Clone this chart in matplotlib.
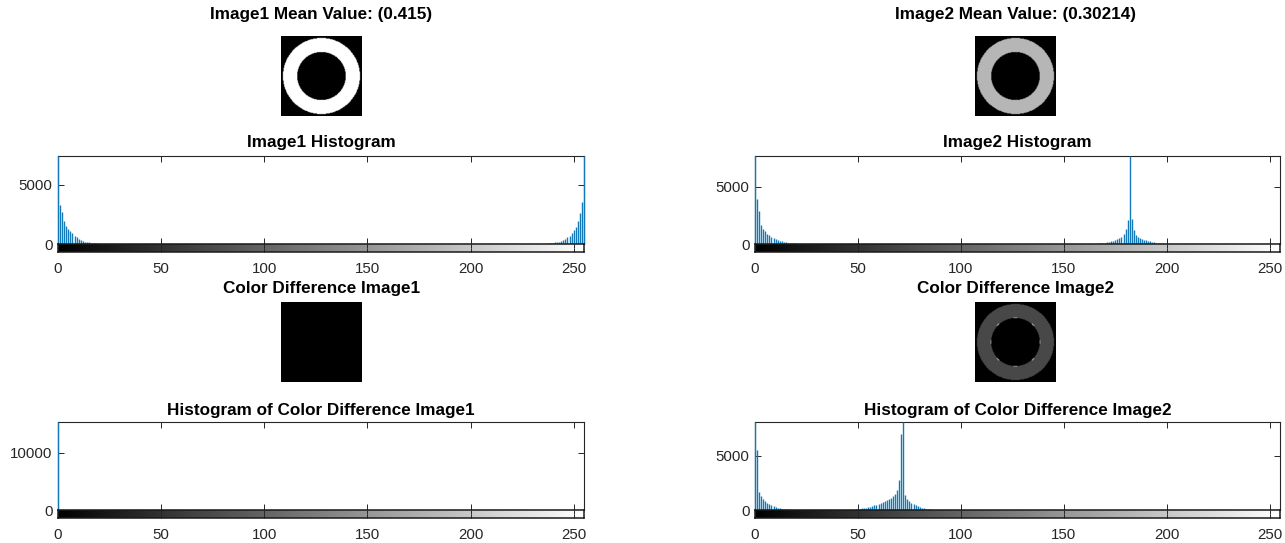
import numpy as np
import matplotlib
matplotlib.use("Agg")
import matplotlib.pyplot as plt

plt.rcParams['font.family'] = ['Liberation Sans', 'DejaVu Sans']

# ---------------- data ----------------
img_size = 124
ring_outer = 0.95
ring_inner = 0.60
image1_ring_level = 255
image2_ring_level = 182
diff2_ring_level = 72

titles_left = ["Image1 Mean Value: (0.415)", "Image1 Histogram",
               "Color Difference Image1", "Histogram of Color Difference Image1"]
titles_right = ["Image2 Mean Value: (0.30214)", "Image2 Histogram",
                "Color Difference Image2", "Histogram of Color Difference Image2"]

x_ticks = [0, 50, 100, 150, 200, 250]

hist1_bins = list(range(0, 23)) + list(range(232, 256))
hist1_counts = [7400, 3300, 2700, 1900, 1500, 1300, 1100, 900, 700, 550, 400, 330,
                260, 200, 160, 130, 100, 80, 60, 45, 35, 25, 15,
                10, 15, 20, 30, 40, 50, 70, 90, 110, 140, 170, 210, 260, 330, 420,
                550, 700, 900, 1150, 1450, 1900, 2600, 3500, 7400]
hist1_ymax = 7400
hist1_yticks = [0, 5000]

hist2_bins = list(range(0, 25)) + list(range(165, 202))
hist2_counts = [7700, 3900, 2900, 1650, 1350, 1100, 900, 800, 650, 550, 450, 380,
                300, 250, 200, 160, 130, 100, 80, 60, 45, 35, 25, 15, 10,
                25, 35, 50, 70, 90, 120, 150, 190, 230, 280, 350, 420, 500, 650,
                900, 1300, 2100, 7700, 2200, 1200, 800, 650, 550, 450, 380, 320,
                270, 230, 190, 160, 130, 100, 80, 60, 40, 25, 15]
hist2_ymax = 7700
hist2_yticks = [0, 5000]

hist3_bins = [0]
hist3_counts = [15376]
hist3_ymax = 15376
hist3_yticks = [0, 10000]

hist4_bins = list(range(0, 18)) + list(range(48, 87))
hist4_counts = [8100, 5500, 1700, 1300, 1000, 800, 650, 550, 450, 350, 280, 220,
                170, 130, 100, 70, 50, 30,
                40, 60, 90, 120, 150, 180, 220, 260, 300, 360, 420, 480, 550,
                650, 700, 800, 900, 1000, 1100, 1300, 1500, 1800, 2800, 7000,
                8100, 1400, 1000, 800, 650, 520, 430, 350, 280, 220, 170, 130,
                90, 60, 40]
hist4_ymax = 8100
hist4_yticks = [0, 5000]

# ---------------- figure ----------------
W, H = 1285, 543
fig = plt.figure(figsize=(W / 100, H / 100), dpi=100)


def rect(x0, y0, x1, y1):
    return [x0 / W, 1 - y1 / H, (x1 - x0) / W, (y1 - y0) / H]


def ring_image(level, edge=False):
    yy, xx = np.mgrid[0:img_size, 0:img_size]
    c = (img_size - 1) / 2
    r = np.hypot(xx - c, yy - c) / (img_size / 2)
    img = np.zeros((img_size, img_size))
    img[(r <= ring_outer) & (r >= ring_inner)] = level
    if edge:
        band = (r >= ring_inner) & (r < ring_inner + 0.02)
        ang = np.arctan2(yy - c, xx - c)
        spots = band & (np.cos(ang * 8) > 0.85)
        img[spots] = 190
    return img


TXT = '#262626'
STEM = '#1479b8'
TITLE_FS = 12.3
TICK_FS = 10.8


def draw_image(box, img, title, title_x, title_y):
    ax = fig.add_axes(rect(*box))
    ax.imshow(img, cmap='gray', vmin=0, vmax=255, aspect='auto',
              interpolation='bilinear')
    ax.set_axis_off()
    fig.text(title_x / W, 1 - title_y / H, title, ha='center', va='center',
             fontsize=TITLE_FS, fontweight='bold', color='black')


def draw_hist(x0, x1, ytop, ybot, bins, counts, ymax, yticks, title, title_y):
    ax = fig.add_axes(rect(x0, ytop, x1, ybot))
    ax.vlines(bins, 0, counts, color=STEM, lw=1.0, zorder=3, clip_on=False)
    ax.set_xlim(0, 255)
    ax.set_ylim(0, ymax)
    ax.set_xticks(x_ticks)
    ax.set_xticklabels([])
    ax.set_yticks(yticks)
    ax.set_yticklabels([str(t) for t in yticks], fontsize=TICK_FS, color=TXT)
    ax.tick_params(direction='in', length=4, width=0.7, top=True, right=True,
                   color=TXT, pad=4)
    for s in ax.spines.values():
        s.set_linewidth(0.8)
        s.set_color(TXT)
    fig.text((x0 + x1) / 2 / W, 1 - title_y / H, title, ha='center', va='center',
             fontsize=TITLE_FS, fontweight='bold', color='black')

    sx = fig.add_axes(rect(x0, ybot, x1, ybot + 8))
    sx.imshow(np.arange(256)[None, :], cmap='gray', vmin=0, vmax=255,
              aspect='auto', extent=[-0.5, 255.5, 0, 1])
    sx.set_xlim(0, 255)
    sx.set_ylim(0, 1)
    sx.set_yticks([])
    sx.set_xticks(x_ticks)
    sx.set_xticklabels([str(t) for t in x_ticks], fontsize=TICK_FS, color=TXT)
    sx.tick_params(direction='in', length=3, width=0.7, top=True, color=TXT, pad=7)
    for s in sx.spines.values():
        s.set_linewidth(1.1)
        s.set_color('#1a1a1a')


# left column
draw_image((281, 36, 362, 116), ring_image(image1_ring_level), titles_left[0], 321.5, 14)
draw_hist(58, 584, 156, 244, hist1_bins, hist1_counts, hist1_ymax, hist1_yticks,
          titles_left[1], 143)
draw_image((281, 302, 362, 382), np.zeros((img_size, img_size)), titles_left[2], 321.5, 288)
draw_hist(58, 584, 422, 510, hist3_bins, hist3_counts, hist3_ymax, hist3_yticks,
          titles_left[3], 410)

# right column
draw_image((975, 36, 1056, 116), ring_image(image2_ring_level), titles_right[0], 1015.5, 14)
draw_hist(755, 1280, 156, 244, hist2_bins, hist2_counts, hist2_ymax, hist2_yticks,
          titles_right[1], 143)
draw_image((975, 302, 1056, 382), ring_image(diff2_ring_level, edge=True),
           titles_right[2], 1015.5, 288)
draw_hist(755, 1280, 422, 510, hist4_bins, hist4_counts, hist4_ymax, hist4_yticks,
          titles_right[3], 410)

fig.savefig('out.png', dpi=100, facecolor='white')
